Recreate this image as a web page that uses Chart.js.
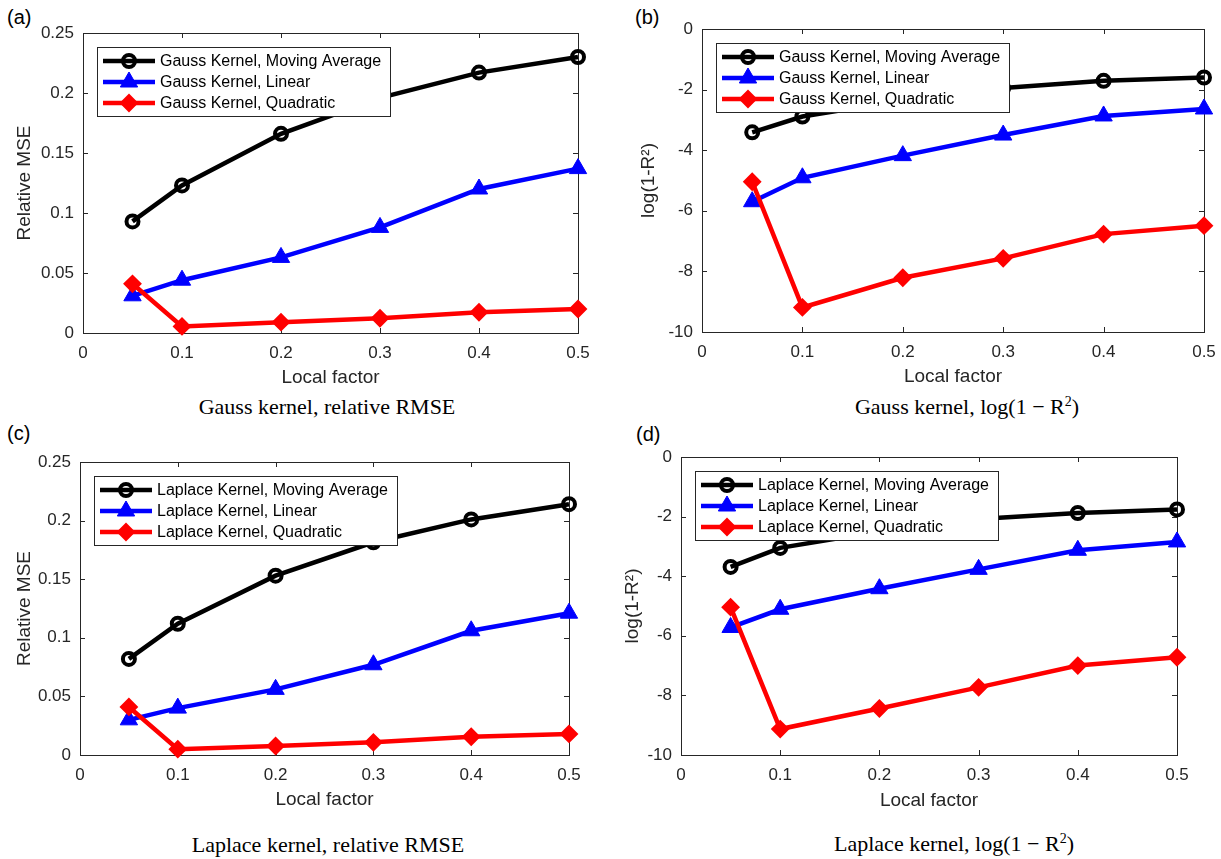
<!DOCTYPE html>
<html>
<head>
<meta charset="utf-8">
<script src="https://cdn.jsdelivr.net/npm/chart.js@4.4.0/dist/chart.umd.min.js"></script>
<style>
  body { margin: 0; background: #fff; width: 1221px; height: 859px; position: relative; overflow: hidden;
         font-family: "Liberation Sans", Arial, sans-serif; }
  canvas { position: absolute; }
  .tag { position: absolute; font-size: 20px; line-height: 1; color: #000; }
  .cap { position: absolute; font-family: "Liberation Serif", "Times New Roman", serif; font-size: 22px;
         color: #000; white-space: nowrap; transform: translate(-50%, -50%); }
  .cap sup { font-size: 14px; vertical-align: 8px; line-height: 0; }
</style>
</head>
<body>
<div class="tag" style="left:7px;top:7px">(a)</div>
<div class="tag" style="left:635px;top:7px">(b)</div>
<div class="tag" style="left:7px;top:423px">(c)</div>
<div class="tag" style="left:636px;top:424px">(d)</div>

<canvas id="chartA"></canvas>
<canvas id="chartB"></canvas>
<canvas id="chartC"></canvas>
<canvas id="chartD"></canvas>

<div class="cap" style="left:327px;top:407px">Gauss kernel, relative RMSE</div>
<div class="cap" style="left:967px;top:407px">Gauss kernel, log(1 &minus; R<sup>2</sup>)</div>
<div class="cap" style="left:328px;top:845px">Laplace kernel, relative RMSE</div>
<div class="cap" style="left:954px;top:844px">Laplace kernel, log(1 &minus; R<sup>2</sup>)</div>

<script>
// x positions shared by every panel
const localFactor = [0.05, 0.1, 0.2, 0.3, 0.4, 0.5];
const xTicks = [0, 0.1, 0.2, 0.3, 0.4, 0.5];
const mseTicks = [0, 0.05, 0.1, 0.15, 0.2, 0.25];
const logTicks = [-10, -8, -6, -4, -2, 0];

// (a) Gauss kernel, relative MSE
const gaussMseMoving = [0.093, 0.123, 0.166, 0.196, 0.217, 0.230];
const gaussMseLinear = [0.031, 0.044, 0.063, 0.088, 0.120, 0.137];
const gaussMseQuad = [0.041, 0.0055, 0.009, 0.0123, 0.0173, 0.020];

// (b) Gauss kernel, log(1-R^2)
const gaussLogMoving = [-3.41, -2.89, -2.35, -1.95, -1.71, -1.60];
const gaussLogLinear = [-5.70, -4.91, -4.18, -3.50, -2.87, -2.64];
const gaussLogQuad = [-5.04, -9.19, -8.21, -7.57, -6.77, -6.49];

// (c) Laplace kernel, relative MSE
const laplaceMseMoving = [0.082, 0.112, 0.153, 0.1815, 0.201, 0.214];
const laplaceMseLinear = [0.030, 0.040, 0.056, 0.077, 0.106, 0.121];
const laplaceMseQuad = [0.041, 0.005, 0.0077, 0.0108, 0.0156, 0.018];

// (d) Laplace kernel, log(1-R^2)
const laplaceLogMoving = [-3.69, -3.05, -2.50, -2.08, -1.88, -1.76];
const laplaceLogLinear = [-5.72, -5.11, -4.42, -3.77, -3.13, -2.85];
const laplaceLogQuad = [-5.04, -9.13, -8.44, -7.73, -7.00, -6.72];

const gaussNames = ["Gauss Kernel, Moving Average", "Gauss Kernel, Linear", "Gauss Kernel, Quadratic"];
const laplaceNames = ["Laplace Kernel, Moving Average", "Laplace Kernel, Linear", "Laplace Kernel, Quadratic"];

const FONT = '"Liberation Sans", Arial, sans-serif';
const AXIS_COLOR = '#262626';

const seriesStyles = [
    { color: '#000000', pointStyle: 'circle', radius: 6, fill: 'rgba(0,0,0,0)', pointBorder: 4 },
    { color: '#0000ff', pointStyle: 'triangle', radius: 10, fill: '#0000ff', pointBorder: 1 },
    { color: '#ff0000', pointStyle: 'rectRot', radius: 8, fill: '#ff0000', pointBorder: 2 }
];

function fmt(v) {
    return String(Math.round(v * 100) / 100);
}

// box, ticks on all four sides pointing inward (matlab style)
const axisFrame = {
    id: 'axisFrame',
    beforeDatasetsDraw(chart) {
        const { ctx, chartArea: a, scales } = chart;
        const x = scales.x, y = scales.y;
        ctx.save();
        ctx.strokeStyle = AXIS_COLOR;
        ctx.lineWidth = 1;
        ctx.strokeRect(a.left + 0.5, a.top + 0.5, a.right - a.left, a.bottom - a.top);
        ctx.beginPath();
        x.ticks.forEach(t => {
            const px = Math.round(x.getPixelForValue(t.value)) + 0.5;
            ctx.moveTo(px, a.bottom); ctx.lineTo(px, a.bottom - 5);
            ctx.moveTo(px, a.top); ctx.lineTo(px, a.top + 5);
        });
        y.ticks.forEach(t => {
            const py = Math.round(y.getPixelForValue(t.value)) + 0.5;
            ctx.moveTo(a.left, py); ctx.lineTo(a.left + 5, py);
            ctx.moveTo(a.right, py); ctx.lineTo(a.right - 5, py);
        });
        ctx.stroke();
        ctx.restore();
    }
};

// legend box drawn inside the plot, upper left
const insideLegend = {
    id: 'insideLegend',
    afterDatasetsDraw(chart) {
        const { ctx, chartArea: a } = chart;
        const sets = chart.data.datasets;
        ctx.save();
        ctx.font = '16px ' + FONT;
        const textW = Math.max(...sets.map(d => ctx.measureText(d.label).width));
        const x0 = Math.round(a.left) + 14, y0 = Math.round(a.top) + 14;
        const w = Math.round(63 + textW + 9), h = 69;
        ctx.fillStyle = '#ffffff';
        ctx.fillRect(x0, y0, w, h);
        ctx.strokeStyle = AXIS_COLOR;
        ctx.lineWidth = 1;
        ctx.strokeRect(x0 + 0.5, y0 + 0.5, w, h);
        sets.forEach((d, i) => {
            const cy = y0 + 14 + i * 21;
            ctx.strokeStyle = d.borderColor;
            ctx.lineWidth = d.borderWidth;
            ctx.beginPath();
            ctx.moveTo(x0 + 6, cy);
            ctx.lineTo(x0 + 58, cy);
            ctx.stroke();
            ctx.fillStyle = d.pointBackgroundColor;
            ctx.strokeStyle = d.pointBorderColor;
            ctx.lineWidth = d.pointBorderWidth;
            if (Chart.helpers && Chart.helpers.drawPoint) {
                Chart.helpers.drawPoint(ctx, { pointStyle: d.pointStyle, radius: d.pointRadius, rotation: 0, borderWidth: d.pointBorderWidth }, x0 + 32, cy);
            } else {
                ctx.beginPath();
                ctx.arc(x0 + 32, cy, d.pointRadius, 0, Math.PI * 2);
                ctx.fill();
                ctx.stroke();
            }
            ctx.fillStyle = '#000000';
            ctx.textBaseline = 'middle';
            ctx.textAlign = 'left';
            ctx.fillText(d.label, x0 + 63, cy + 1);
        });
        ctx.restore();
    }
};

function drawPanel(id, box, yTitle, yTicks, names, values) {
    const cv = document.getElementById(id);
    // padding big enough to swallow chart.js' own tick-label overflow padding
    const padTop = 24, padRight = 28, padBottom = 2;
    cv.width = (box.r - box.l) + box.wy + padRight;
    cv.height = (box.b - box.t) + padTop + box.hx + padBottom;
    cv.style.left = (box.l - box.wy) + 'px';
    cv.style.top = (box.t - padTop) + 'px';

    const datasets = names.map((name, i) => ({
        label: name,
        data: localFactor.map((x, k) => ({ x: x, y: values[i][k] })),
        borderColor: seriesStyles[i].color,
        backgroundColor: seriesStyles[i].color,
        borderWidth: 4.5,
        pointStyle: seriesStyles[i].pointStyle,
        pointRadius: seriesStyles[i].radius,
        pointBackgroundColor: seriesStyles[i].fill,
        pointBorderColor: seriesStyles[i].color,
        pointBorderWidth: seriesStyles[i].pointBorder,
        fill: false,
        tension: 0,
        clip: false,
        order: 2 - i
    }));

    new Chart(cv, {
        type: 'line',
        data: { datasets: datasets },
        options: {
            responsive: false,
            animation: false,
            devicePixelRatio: 1,
            layout: { padding: { left: 0, top: padTop, right: padRight, bottom: padBottom } },
            plugins: { legend: { display: false }, tooltip: { enabled: false } },
            scales: {
                x: {
                    type: 'linear',
                    min: xTicks[0],
                    max: xTicks[xTicks.length - 1],
                    afterBuildTicks: s => { s.ticks = xTicks.map(v => ({ value: v })); },
                    afterFit: s => { s.height = box.hx; },
                    grid: { display: false, drawTicks: false },
                    border: { display: false },
                    ticks: { padding: 10, color: AXIS_COLOR, font: { family: FONT, size: 17 }, maxRotation: 0, callback: v => fmt(v) },
                    title: { display: true, text: 'Local factor', color: AXIS_COLOR, font: { family: FONT, size: 19 }, padding: 0 }
                },
                y: {
                    type: 'linear',
                    min: yTicks[0],
                    max: yTicks[yTicks.length - 1],
                    afterBuildTicks: s => { s.ticks = yTicks.map(v => ({ value: v })); },
                    afterFit: s => { s.width = box.wy; },
                    grid: { display: false, drawTicks: false },
                    border: { display: false },
                    ticks: { padding: 9, color: AXIS_COLOR, font: { family: FONT, size: 17 }, callback: v => fmt(v) },
                    title: { display: true, text: yTitle, color: AXIS_COLOR, font: { family: FONT, size: 19 }, padding: 0 }
                }
            }
        },
        plugins: [axisFrame, insideLegend]
    });
}

drawPanel('chartA', { l: 83, r: 578, t: 33, b: 333, wy: 70, hx: 56 }, 'Relative MSE', mseTicks, gaussNames,
    [gaussMseMoving, gaussMseLinear, gaussMseQuad]);
drawPanel('chartB', { l: 702, r: 1204, t: 29, b: 332, wy: 65, hx: 56 }, 'log(1-R\u00b2)', logTicks, gaussNames,
    [gaussLogMoving, gaussLogLinear, gaussLogQuad]);
drawPanel('chartC', { l: 80, r: 569, t: 462, b: 755, wy: 67, hx: 56 }, 'Relative MSE', mseTicks, laplaceNames,
    [laplaceMseMoving, laplaceMseLinear, laplaceMseQuad]);
drawPanel('chartD', { l: 681, r: 1177, t: 457, b: 755, wy: 60, hx: 57 }, 'log(1-R\u00b2)', logTicks, laplaceNames,
    [laplaceLogMoving, laplaceLogLinear, laplaceLogQuad]);
</script>
</body>
</html>
